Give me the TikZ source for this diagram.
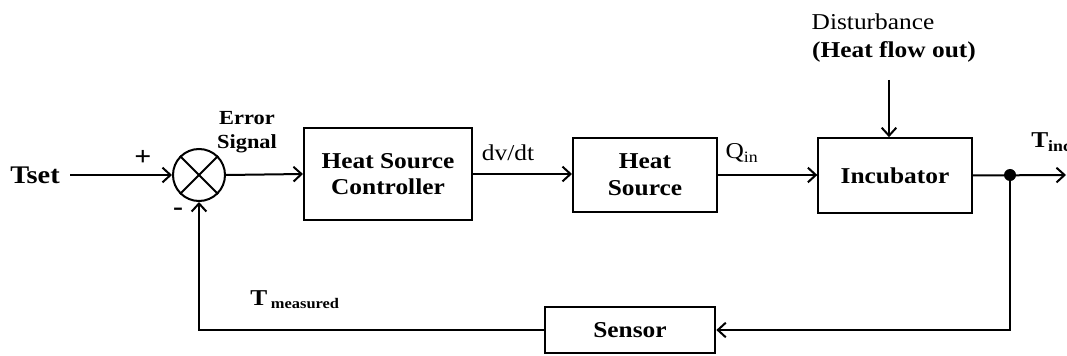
\documentclass[tikz,border=0pt]{standalone}
\usepackage{fontspec}
\setmainfont{Liberation Serif}[
  UprightFont={Liberation Serif},
  BoldFont={Liberation Serif Bold},
  FakeStretch=1.12]
\usetikzlibrary{arrows.meta,positioning}
\tikzset{
  >={Straight Barb[length=6pt,width=11pt]},
  block/.style={draw, line width=1.5pt, align=center, inner sep=0pt,
    font=\fontsize{17}{20}\selectfont\bfseries},
  sumjunction/.style={circle, draw, line width=1.5pt, minimum size=39pt, inner sep=0pt},
  flow/.style={->, line width=1.5pt},
  link/.style={line width=1.5pt},
  sig/.style={inner sep=0pt, font=\fontsize{17}{20}\selectfont},
  sigb/.style={sig, font=\fontsize{17}{20}\selectfont\bfseries},
  bigsign/.style={inner sep=0pt, font=\fontsize{20}{22}\selectfont\bfseries},
  small/.style={inner sep=0pt, align=center, font=\fontsize{15}{18}\selectfont\bfseries}
}

\begin{document}
\begin{tikzpicture}[x=0.75pt,y=-0.75pt]
  \useasboundingbox (0,0) rectangle (1067,356);

  % forward path
  \node[sigb, font=\fontsize{19}{22}\selectfont\bfseries] (tset) at (35,175) {Tset};
  \node[sumjunction] (sum) at (199,175) {};
  \draw[link] (sum.north west) -- (sum.south east);
  \draw[link] (sum.north east) -- (sum.south west);
  \node[block, minimum width=126pt, minimum height=69pt] (ctrl) at (388,174)
     {Heat Source\\Controller};
  \node[block, minimum width=108pt, minimum height=56pt] (src) at (645,175)
     {Heat\\Source};
  \node[block, minimum width=115pt, minimum height=56pt] (inc) at (895,175.5)
     {Incubator};
  \node[block, minimum width=128pt, minimum height=35pt] (sensor) at (630,330)
     {Sensor};

  % labels
  \node[bigsign] (plus) at (143,158) {+};
  \node[bigsign] (minus) at (178,212) {-};
  \node[small] (err) at (247,132) {Error\\Signal};
  \node[sig] (dvdt) at (508,153) {dv/dt};
  \node[sig] (qin) at (742,153) {Q\textsubscript{in}};
  \node[sig] (dist1) at (873,22) {Disturbance};
  \node[sigb] (dist2) at (894,52) {(Heat flow out)};
  \node[sigb, anchor=west] (tinc) at (1031,142) {T\textsubscript{inc}};
  \node[sigb, anchor=west] (tmeas) at (250,300)
     {T\,\raisebox{-2pt}{\fontsize{11}{13}\selectfont measured}};

  % connectors
  \coordinate (tsetout) at (70,175);
  \coordinate (distin) at (889,80);
  \coordinate (tap) at (1010,175);
  \coordinate (out) at (1066,175);
  \draw[flow] (tsetout) -- (sum.west);
  \draw[flow] (sum.east) -- (ctrl.west);
  \draw[flow] (ctrl.east) -- (ctrl.east -| src.west);
  \draw[flow] (src.east) -- (src.east -| inc.west);
  \draw[flow] (distin) -- (distin |- inc.north);
  \draw[flow] (inc.east) -- (out);
  \fill (tap) circle (4.5pt);
  \draw[flow] (tap) |- (sensor.east);
  \draw[flow] (sensor.west) -| (sum.south);
\end{tikzpicture}
\end{document}
